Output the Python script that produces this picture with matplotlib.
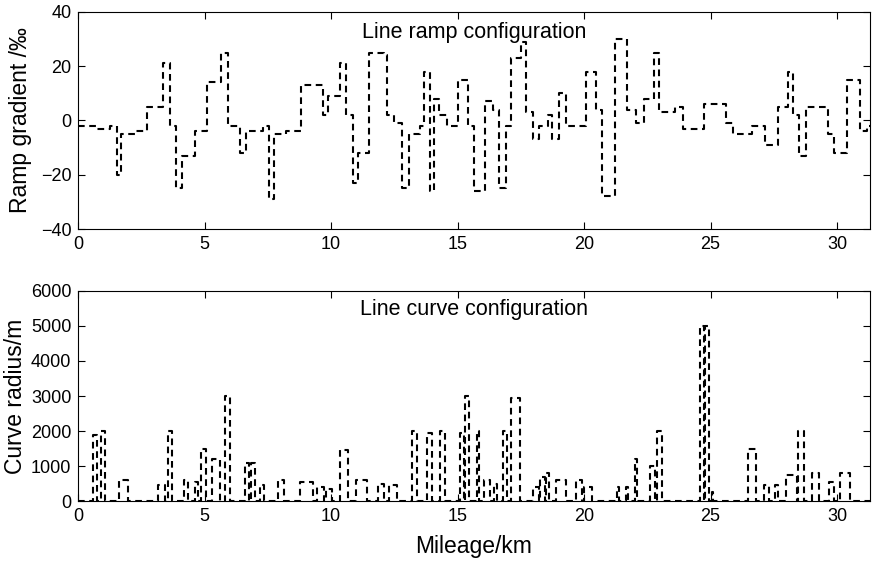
import matplotlib
matplotlib.use("Agg")
import matplotlib.pyplot as plt

plt.rcParams['font.family'] = ['Liberation Sans', 'DejaVu Sans']

# ramp gradient: km where a new gradient starts, and its value (per mille)
ramp_km = [0, 0.73, 1.25, 1.52, 1.71, 2.24, 2.73, 3.36, 3.62, 3.86,
           4.12, 4.61, 5.09, 5.66, 5.92, 6.38, 6.64, 7.3, 7.53, 7.73,
           8.23, 8.82, 9.67, 9.87, 10.35, 10.59, 10.86, 11.05, 11.51, 12.1,
           12.2, 12.5, 12.8, 13.06, 13.5, 13.69, 13.89, 14.08, 14.28, 14.57,
           15.0, 15.4, 15.66, 16.1, 16.39, 16.65, 16.9, 17.1, 17.5, 17.7,
           17.97, 18.2, 18.56, 18.75, 19.0, 19.3, 20.07, 20.46, 20.7, 21.23,
           21.68, 22.05, 22.37, 22.77, 22.97, 23.6, 23.9, 24.74, 25.6, 25.9,
           26.65, 27.15, 27.66, 28.07, 28.27, 28.5, 28.77, 29.66, 29.9, 30.4,
           30.93, 31.2]
ramp_val = [-2, -3, -2, -20, -5, -4, 5, 21, -2, -25,
            -13, -4, 14, 25, -2, -12, -4, -2, -29, -5,
            -4, 13, 2, 9, 21, 2, -23, -12, 25, 24,
            2, -1, -25, -5, -2, 18, -26, 8, 2, -2,
            15, -2, -26, 7, 4, -25, -2, 23, 29, 3,
            -7, -2, 2, -7, 10, -2, 18, 4, -28, 30,
            4, -1, 8, 25, 3, 5, -3, 6, -1, -5,
            -2, -9, 5, 18, 2, -13, 5, -5, -12, 15,
            -4, -2]
line_end = 31.3

# curves: start km, end km, radius (m)
curve_start = [0.6, 0.9, 1.6, 3.15, 3.54, 4.2, 4.6, 4.85, 5.3, 5.8,
               6.6, 6.85, 7.2, 7.9, 8.75, 9.45, 9.8, 10.35, 11.0, 11.85,
               12.3, 13.2, 13.8, 14.3, 15.1, 15.3, 15.75, 16.05, 16.45, 16.8,
               17.1, 18.0, 18.25, 18.5, 18.9, 19.7, 20.0, 21.3, 21.65, 22.0,
               22.6, 22.9, 24.6, 24.8, 25.05, 26.5, 27.1, 27.55, 28.0, 28.45,
               29.0, 29.7, 30.1]
curve_end = [0.75, 1.05, 1.95, 3.45, 3.72, 4.33, 4.75, 5.05, 5.6, 6.0,
             6.75, 7.0, 7.35, 8.15, 9.3, 9.7, 10.05, 10.65, 11.4, 12.1,
             12.6, 13.4, 14.0, 14.5, 15.25, 15.45, 15.85, 16.3, 16.55, 16.95,
             17.45, 18.2, 18.45, 18.6, 19.3, 19.9, 20.3, 21.4, 21.75, 22.1,
             22.8, 23.1, 24.75, 24.95, 25.1, 26.8, 27.3, 27.65, 28.4, 28.7,
             29.3, 29.9, 30.5]
curve_radius = [1900, 2000, 600, 450, 2000, 600, 550, 1500, 1200, 3000,
                1100, 1100, 450, 600, 550, 400, 350, 1450, 600, 500,
                450, 2000, 1950, 2000, 1950, 3000, 2000, 600, 500, 2000,
                2950, 400, 700, 800, 600, 600, 400, 400, 400, 1200,
                1000, 2000, 5000, 5000, 250, 1500, 450, 450, 750, 2000,
                800, 550, 800]

# step line for the ramp
rx = list(ramp_km) + [line_end]
ry = list(ramp_val) + [ramp_val[-1]]

# pulse line for the curves
cx = [0]
cy = [0]
for s, e, r in zip(curve_start, curve_end, curve_radius):
    cx += [s, s, e, e]
    cy += [0, r, r, 0]
cx.append(line_end)
cy.append(0)

fig = plt.figure(figsize=(8.84, 5.67), dpi=100)
ax1 = fig.add_axes([0.0885, 0.596, 0.8955, 0.383])
ax2 = fig.add_axes([0.0885, 0.116, 0.8955, 0.371])

ax1.step(rx, ry, where='post', color='k', ls='--', lw=1.5, dashes=(3.2, 2.2))
ax1.set_xlim(0, line_end)
ax1.set_ylim(-40, 40)
ax1.set_yticks([-40, -20, 0, 20, 40])
ax1.set_xticks([0, 5, 10, 15, 20, 25, 30])
ax1.set_ylabel("Ramp gradient /‰", fontsize=16.5, labelpad=6)
ax1.text(0.5, 0.905, "Line ramp configuration", transform=ax1.transAxes,
         ha='center', va='center', fontsize=15.5)

ax2.plot(cx, cy, color='k', ls='--', lw=1.5, dashes=(3.2, 2.2))
ax2.set_xlim(0, line_end)
ax2.set_ylim(0, 6000)
ax2.set_yticks([0, 1000, 2000, 3000, 4000, 5000, 6000])
ax2.set_xticks([0, 5, 10, 15, 20, 25, 30])
ax2.set_ylabel("Curve radius/m", fontsize=16.5, labelpad=3)
ax2.set_xlabel("Mileage/km", fontsize=16.5, labelpad=7)
ax2.text(0.5, 0.91, "Line curve configuration", transform=ax2.transAxes,
         ha='center', va='center', fontsize=15.5)

for ax in (ax1, ax2):
    ax.tick_params(direction='in', top=True, right=True, labelsize=13,
                   length=5, width=0.8, pad=5)
    for sp in ax.spines.values():
        sp.set_linewidth(0.8)

fig.savefig("out.png", dpi=100)
